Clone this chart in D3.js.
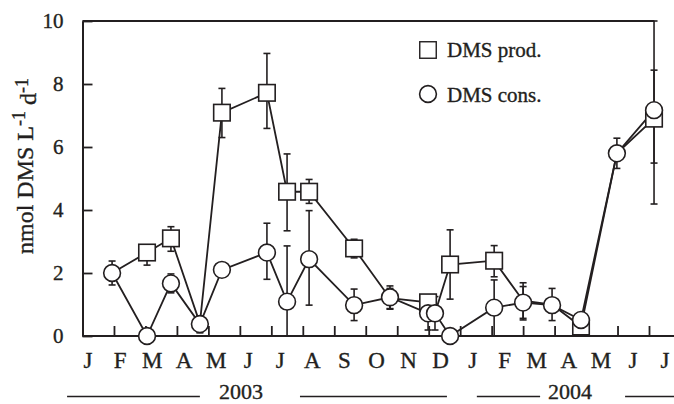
<!DOCTYPE html>
<html>
<head>
<meta charset="utf-8">
<script src="https://cdn.jsdelivr.net/npm/d3@7"></script>
<style>
  html, body { margin: 0; padding: 0; background: #fff; }
  svg { display: block; font-family: "Liberation Serif", "Times New Roman", serif; }
  svg text { stroke: #231f20; stroke-width: 0.35px; }
</style>
</head>
<body>
<svg id="chart" width="674" height="404"></svg>
<script>
// Sampling dates, in months since 1 January 2003
const sampleMonth = [0.94, 2.05, 2.81, 3.73, 4.43, 5.86, 6.50, 7.20, 8.63, 9.77, 10.98, 11.20, 11.68, 13.08, 14.00, 14.92, 15.84, 16.98, 18.16];

// DMS production (nmol L-1 d-1) with error-bar ends
const prod   = [2.0, 2.65, 3.1, 0.4, 7.09, 7.72, 4.58, 4.58, 2.78, 1.2, 1.07, 0.72, 2.27, 2.39, 1.12, 1.0, 0.3, 5.8, 6.9];
const prodLo = [null, 2.25, 2.69, null, 6.3, 6.59, 3.34, 4.21, 2.48, 0.87, 0.85, null, 1.17, 1.88, 0.51, null, null, null, 4.19];
const prodHi = [null, 2.88, 3.47, null, 7.86, 8.97, 5.78, 4.97, 3.07, 1.51, 1.3, null, 3.37, 2.87, 1.69, null, null, null, 10];

// DMS consumption (nmol L-1 d-1) with error-bar ends
const cons   = [2.0, 0.0, 1.67, 0.38, 2.1, 2.65, 1.09, 2.44, 0.98, 1.23, 0.72, 0.72, 0.0, 0.9, 1.06, 0.98, 0.51, 5.8, 7.17];
const consLo = [1.62, null, 1.37, 0.1, null, 1.8, 0, 0.98, 0.49, 0.85, 0.19, 0.19, null, 0, 0.56, 0.49, null, 5.32, 5.49];
const consHi = [2.38, null, 1.97, 0.64, null, 3.58, 2.86, 3.98, 1.49, 1.59, 1.25, 1.25, null, 1.78, 1.57, 1.51, null, 6.28, 8.44];

const monthLabels = ["J", "F", "M", "A", "M", "J", "J", "A", "S", "O", "N", "D", "J", "F", "M", "A", "M", "J", "J"];
const monthTicks = d3.range(1, 19);
const yTicks = [0, 2, 4, 6, 8, 10];
const yearLabels = ["2003", "2004"];
const seriesNames = ["DMS prod.", "DMS cons."];

// ---- layout ----
const ink = "#231f20";
const svg = d3.select("#chart");
const W = 674;
const x = d3.scaleLinear().domain([0, 18]).range([82.5, 649]);
const y = d3.scaleLinear().domain([0, 10]).range([336, 21]);
const xEnd = 18.17;                       // right edge of the frame (months)
const labelX = d3.scalePoint().domain(d3.range(monthLabels.length)).range([88, 665]);

// y axis with inward ticks
const yAxis = svg.append("g")
  .attr("transform", `translate(${x(0)},0)`)
  .call(d3.axisLeft(y).tickValues(yTicks).tickFormat(d3.format("d"))
    .tickSizeInner(-10).tickSizeOuter(0).tickPadding(19));
yAxis.select(".domain").attr("stroke", ink).attr("stroke-width", 2);
yAxis.selectAll(".tick line").attr("stroke", ink).attr("stroke-width", 1.8);
yAxis.selectAll(".tick text").attr("fill", ink).attr("font-size", 21)
  .attr("font-family", "Liberation Serif, serif");

// top edge of the frame
svg.append("line")
  .attr("x1", x(0)).attr("x2", x(xEnd))
  .attr("y1", y(10)).attr("y2", y(10))
  .attr("stroke", ink).attr("stroke-width", 1.8);

// x axis: baseline runs to the right edge, month ticks point up
svg.append("line")
  .attr("x1", x(0)).attr("x2", W)
  .attr("y1", y(0)).attr("y2", y(0))
  .attr("stroke", ink).attr("stroke-width", 2);
const xAxis = svg.append("g")
  .attr("transform", `translate(0,${y(0)})`)
  .call(d3.axisBottom(x).tickValues(monthTicks).tickFormat("").tickSizeInner(-10).tickSizeOuter(0));
xAxis.select(".domain").remove();
xAxis.selectAll(".tick line").attr("stroke", ink).attr("stroke-width", 1.8);

// month letters
svg.append("g").selectAll("text")
  .data(monthLabels)
  .join("text")
  .attr("x", (d, i) => labelX(i))
  .attr("y", 367.5)
  .attr("text-anchor", "middle")
  .attr("font-size", 23)
  .attr("fill", ink)
  .text(d => d);

// year brackets under the month letters (in months)
const yearLayout = [
  { label: yearLabels[0], center: 5.04, rules: [[-0.49, 3.73], [6.91, 11.58]] },
  { label: yearLabels[1], center: 15.49, rules: [[12.53, 14.54], [17.24, 18.8]] }
];
const yearG = svg.append("g");
yearLayout.forEach(yr => {
  yr.rules.forEach(r => {
    yearG.append("line")
      .attr("x1", x(r[0])).attr("x2", x(r[1]))
      .attr("y1", 396.5).attr("y2", 396.5)
      .attr("stroke", ink).attr("stroke-width", 1.6);
  });
  yearG.append("text")
    .attr("x", x(yr.center)).attr("y", 399)
    .attr("text-anchor", "middle")
    .attr("font-size", 22)
    .attr("fill", ink)
    .text(yr.label);
});

// y axis title with superscripts
const yTitle = svg.append("text")
  .attr("transform", "translate(33,166) rotate(-90)")
  .attr("text-anchor", "middle")
  .attr("font-size", 24)
  .attr("fill", ink);
yTitle.append("tspan").text("nmol DMS L");
yTitle.append("tspan").attr("dy", "-0.42em").attr("font-size", 18).text("-1");
yTitle.append("tspan").attr("dy", "0.42em").text(" d");
yTitle.append("tspan").attr("dy", "-0.42em").attr("font-size", 18).text("-1");

// ---- series ----
const idx = d3.range(sampleMonth.length);
const line = vals => d3.line()
  .x(i => x(sampleMonth[i]))
  .y(i => y(vals[i]))(idx.filter(i => vals[i] != null));

svg.append("path").attr("d", line(prod))
  .attr("fill", "none").attr("stroke", ink).attr("stroke-width", 1.8);
svg.append("path").attr("d", line(cons))
  .attr("fill", "none").attr("stroke", ink).attr("stroke-width", 1.8);

// error bars
const capW = 3.5;
function errorBars(lo, hi) {
  const g = svg.append("g").attr("stroke", ink).attr("stroke-width", 1.6);
  idx.filter(i => lo[i] != null && hi[i] != null).forEach(i => {
    const cx = x(sampleMonth[i]);
    g.append("line").attr("x1", cx).attr("x2", cx).attr("y1", y(lo[i])).attr("y2", y(hi[i]));
    [lo[i], hi[i]].forEach(v => {
      g.append("line").attr("x1", cx - capW).attr("x2", cx + capW).attr("y1", y(v)).attr("y2", y(v));
    });
  });
}
errorBars(prodLo, prodHi);
errorBars(consLo, consHi);

// markers: open squares for production, open circles for consumption
const sq = 16.5, r = 8.4;
// a square that sits right under a consumption circle is left out
const covered = i => cons[i] != null && Math.abs(prod[i] - cons[i]) < 0.15;
svg.append("g").selectAll("rect")
  .data(idx.filter(i => prod[i] != null && !covered(i)))
  .join("rect")
  .attr("x", i => x(sampleMonth[i]) - sq / 2)
  .attr("y", i => y(prod[i]) - sq / 2)
  .attr("width", sq).attr("height", sq)
  .attr("fill", "#fff").attr("stroke", ink).attr("stroke-width", 1.6);
svg.append("g").selectAll("circle")
  .data(idx.filter(i => cons[i] != null))
  .join("circle")
  .attr("cx", i => x(sampleMonth[i]))
  .attr("cy", i => y(cons[i]))
  .attr("r", r)
  .attr("fill", "#fff").attr("stroke", ink).attr("stroke-width", 1.6);

// legend
const legend = svg.append("g");
legend.append("rect")
  .attr("x", 428 - sq / 2).attr("y", 50 - sq / 2)
  .attr("width", sq).attr("height", sq)
  .attr("fill", "#fff").attr("stroke", ink).attr("stroke-width", 1.4);
legend.append("circle")
  .attr("cx", 428).attr("cy", 94).attr("r", r)
  .attr("fill", "#fff").attr("stroke", ink).attr("stroke-width", 1.6);
legend.selectAll("text")
  .data(seriesNames)
  .join("text")
  .attr("x", 447)
  .attr("y", (d, i) => i === 0 ? 57 : 102)
  .attr("font-size", 21)
  .attr("fill", ink)
  .text(d => d);
</script>
</body>
</html>
